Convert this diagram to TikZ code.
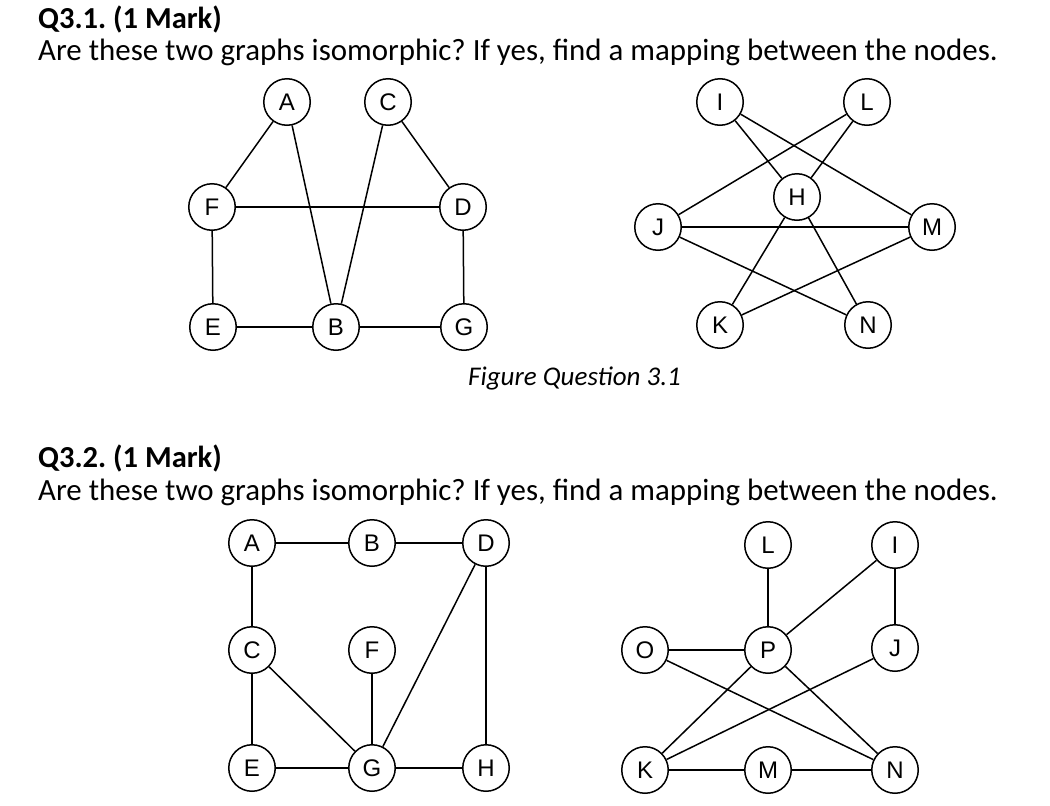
\documentclass[tikz,border=0pt]{standalone}
\usepackage{fontspec}
\setmainfont{Carlito}
\newfontfamily\arialf{Liberation Sans}
\frenchspacing
\begin{document}
\begin{tikzpicture}[x=1pt,y=-1pt,
  vertex/.style={circle,draw,line width=1.5pt,minimum size=46.5pt,inner sep=0pt,font=\arialf\fontsize{24}{24}\selectfont},
  edge/.style={line width=1.5pt},
  heading/.style={anchor=base west,inner sep=0pt,font=\bfseries\fontsize{30.5}{30.5}\selectfont},
  question/.style={anchor=base west,inner sep=0pt,font=\fontsize{30.9}{30.9}\selectfont}]
\useasboundingbox (0,0) rectangle (1050,806);
% texts
\node[heading] (h1) at (38,28) {Q3.1. (1 Mark)};
\node[question] (q1) at (38,60) {Are these two graphs isomorphic? If yes, find a mapping between the nodes.};
\node[anchor=base west,inner sep=0pt,font=\itshape\fontsize{27}{27}\selectfont] (cap) at (468,385) {Figure Question 3.1};
\node[heading] (h2) at (38,467) {Q3.2. (1 Mark)};
\node[question] (q2) at (38,500) {Are these two graphs isomorphic? If yes, find a mapping between the nodes.};
% graph 1 left
\begin{scope}[every node/.style={vertex}]
\node (a1) at (287,102) {A};
\node (c1) at (388,102) {C};
\node (f1) at (212,207) {F};
\node (d1) at (463,207) {D};
\node (e1) at (213,327) {E};
\node (b1) at (336,327) {B};
\node (g1) at (464,327) {G};
% graph 1 right
\node (i1) at (720,102) {I};
\node (l1) at (867,102) {L};
\node (hh1) at (797,197) {H};
\node (j1) at (658,227) {J};
\node (m1) at (932,227) {M};
\node (k1) at (720,325) {K};
\node (n1) at (868,325) {N};
% graph 2 left
\node (a2) at (252,543) {A};
\node (b2) at (372,543) {B};
\node (d2) at (486,543) {D};
\node (c2) at (252,650) {C};
\node (f2) at (372,650) {F};
\node (e2) at (252,768) {E};
\node (g2) at (372,768) {G};
\node (hh2) at (486,768) {H};
% graph 2 right
\node (l2) at (768,545) {L};
\node (i2) at (895,545) {I};
\node (o2) at (645,650) {O};
\node (p2) at (768,650) {P};
\node (j2) at (895,648) {J};
\node (k2) at (645,770) {K};
\node (m2) at (768,770) {M};
\node (n2) at (895,770) {N};
\end{scope}
\begin{scope}[every path/.style={edge}]
\draw (a1) -- (f1); \draw (a1) -- (b1); \draw (c1) -- (b1); \draw (c1) -- (d1);
\draw (f1) -- (d1); \draw (f1) -- (e1); \draw (e1) -- (b1); \draw (b1) -- (g1); \draw (d1) -- (g1);
\draw (i1) -- (hh1); \draw (i1) -- (m1); \draw (l1) -- (j1); \draw (l1) -- (hh1);
\draw (j1) -- (m1); \draw (j1) -- (n1); \draw (hh1) -- (k1); \draw (hh1) -- (n1); \draw (k1) -- (m1);
\draw (a2) -- (b2); \draw (b2) -- (d2); \draw (a2) -- (c2); \draw (c2) -- (e2); \draw (c2) -- (g2);
\draw (f2) -- (g2); \draw (d2) -- (g2); \draw (d2) -- (hh2); \draw (e2) -- (g2); \draw (g2) -- (hh2);
\draw (l2) -- (p2); \draw (i2) -- (p2); \draw (i2) -- (j2); \draw (o2) -- (p2); \draw (o2) -- (n2);
\draw (p2) -- (k2); \draw (p2) -- (n2); \draw (j2) -- (k2); \draw (k2) -- (m2); \draw (m2) -- (n2);
\end{scope}
\end{tikzpicture}
\end{document}
